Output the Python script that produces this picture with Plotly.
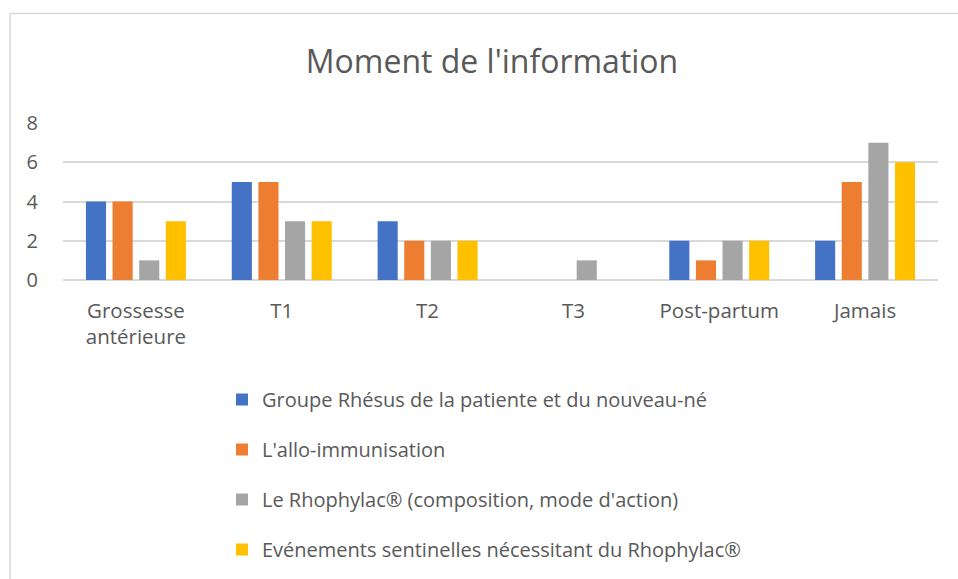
import plotly.graph_objects as go

categories = ["Grossesse<br>antérieure", "T1", "T2", "T3", "Post-partum", "Jamais"]
series_names = [
    "Groupe Rhésus de la patiente et du nouveau-né",
    "L'allo-immunisation",
    "Le Rhophylac® (composition, mode d'action)",
    "Evénements sentinelles nécessitant du Rhophylac® ",
]
groupe_rhesus = [4, 5, 3, 0, 2, 2]
allo_immunisation = [4, 5, 2, 0, 1, 5]
rhophylac_composition = [1, 3, 2, 1, 2, 7]
evenements_sentinelles = [3, 3, 2, 0, 2, 6]
colors = ["#4472C4", "#ED7D31", "#A5A5A5", "#FFC000"]
y_ticks = [0, 2, 4, 6, 8]

series_values = [groupe_rhesus, allo_immunisation, rhophylac_composition, evenements_sentinelles]

FONT = "Open Sans"
TXT = "#595959"

fig = go.Figure()
for i, (name, vals) in enumerate(zip(series_names, series_values)):
    fig.add_trace(go.Bar(
        x=categories, y=vals, name=name,
        marker=dict(color=colors[i], line=dict(width=0)),
        legendgroup=f"g{i}",
    ))

W, H = 958, 579
L, R, T, B = 63, 20, 123, 299
pw = W - L - R
ph = H - T - B

def px_x(x):
    return (x - L) / pw

def px_y(y):
    return (H - B - y) / ph

fig.update_layout(
    width=W, height=H,
    margin=dict(l=L, r=R, t=T, b=B, autoexpand=False),
    paper_bgcolor="white", plot_bgcolor="white",
    barmode="group", bargap=0.27, bargroupgap=0.245,
    font=dict(family=FONT, color=TXT, size=20),
    title=dict(text="Moment de l'information", x=492 / W, xanchor="center",
               y=1 - 62 / H, yanchor="middle", xref="container", yref="container",
               font=dict(family=FONT, size=32, color=TXT)),
    xaxis=dict(showgrid=False, showline=False, zeroline=False, ticks="",
               tickfont=dict(size=20.5, color=TXT), ticklabelstandoff=16),
    yaxis=dict(range=[0, 8], tickvals=y_ticks, showgrid=True, gridcolor="#D9D9D9",
               gridwidth=1.5, zeroline=True, zerolinecolor="#D9D9D9", zerolinewidth=1.5,
               showline=False, ticks="", tickfont=dict(size=20, color=TXT),
               ticklabelstandoff=24),
    legend=dict(orientation="v", x=px_x(222), xanchor="left", y=px_y(380), yanchor="top",
                font=dict(size=20, color=TXT, family=FONT), tracegroupgap=21,
                traceorder="grouped", itemclick=False, bgcolor="rgba(0,0,0,0)"),
    shapes=[dict(type="rect", xref="paper", yref="paper",
                 x0=px_x(10), x1=px_x(975), y0=px_y(600), y1=px_y(13.5),
                 line=dict(color="#D9D9D9", width=1.5), layer="below")],
)

fig.write_html("out.html", config={"displayModeBar": False},
               post_script="document.body.style.margin='0';document.body.style.padding='0';")
